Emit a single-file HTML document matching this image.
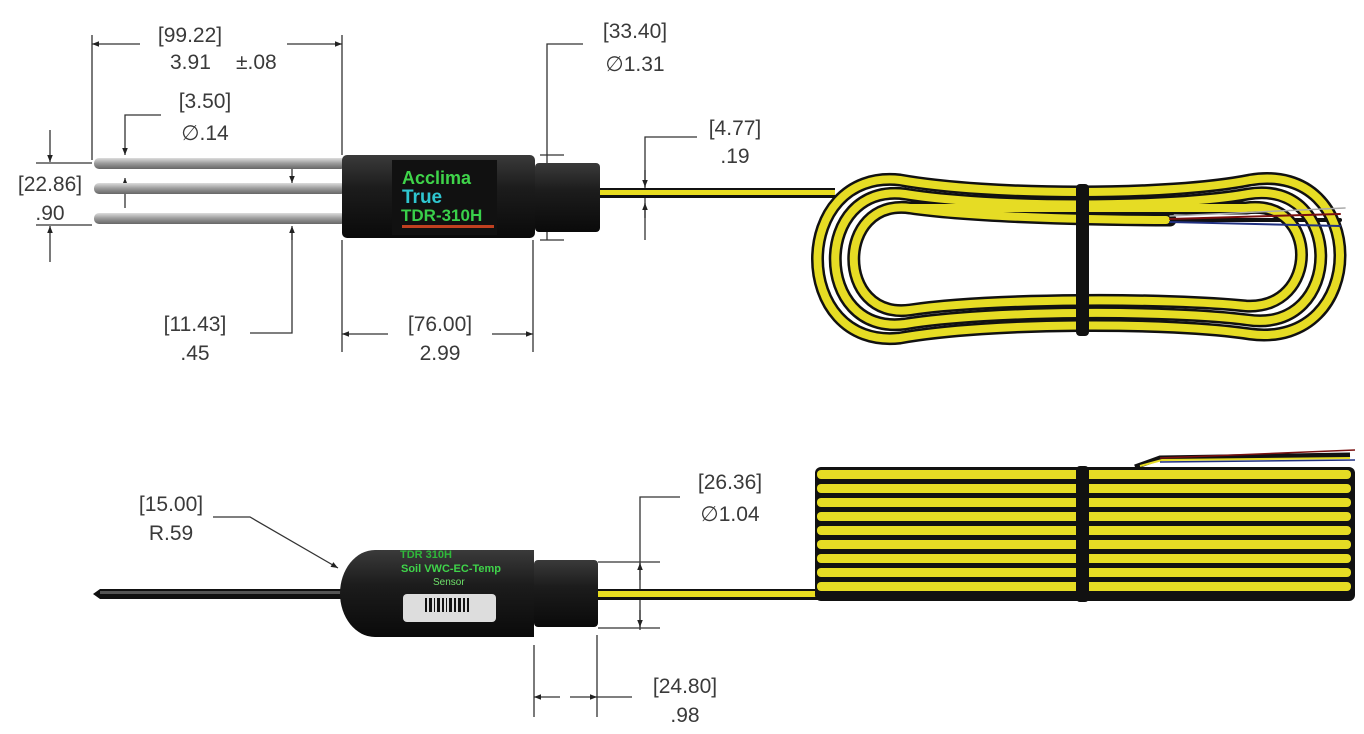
<!DOCTYPE html>
<html><head><meta charset="utf-8"><style>
html,body{margin:0;padding:0;background:#fff;}
svg{display:block}
text{font-family:"Liberation Sans",sans-serif;fill:#3a3a3a;font-size:21px}
</style></head><body>
<svg width="1364" height="734" viewBox="0 0 1364 734" xmlns="http://www.w3.org/2000/svg">
<defs>
<marker id="a" viewBox="0 0 10 10" refX="10" refY="5" markerWidth="9" markerHeight="7" orient="auto-start-reverse" markerUnits="userSpaceOnUse"><path d="M0,1 L10,5 L0,9 Z" fill="#222"/></marker>
<linearGradient id="rod" x1="0" y1="0" x2="0" y2="1"><stop offset="0" stop-color="#ddd"/><stop offset=".5" stop-color="#999"/><stop offset="1" stop-color="#666"/></linearGradient>
<linearGradient id="blk" x1="0" y1="0" x2="0" y2="1"><stop offset="0" stop-color="#3a3a3a"/><stop offset=".4" stop-color="#1c1c1c"/><stop offset="1" stop-color="#0a0a0a"/></linearGradient>
</defs>
<g stroke="#333" stroke-width="1.3" fill="none">
<!-- 99.22 -->
<line x1="92" y1="35" x2="92" y2="160"/><line x1="342" y1="35" x2="342" y2="155"/>
<line x1="140" y1="44" x2="92" y2="44" marker-end="url(#a)"/><line x1="287" y1="44" x2="342" y2="44" marker-end="url(#a)"/>
<!-- 3.50 -->
<polyline points="161,115 125,115 125,155" marker-end="url(#a)"/><line x1="125" y1="208" x2="125" y2="178" marker-end="url(#a)"/>
<line x1="292" y1="168" x2="292" y2="183" marker-end="url(#a)"/>
<!-- 22.86 -->
<line x1="50" y1="130" x2="50" y2="162" marker-end="url(#a)"/><line x1="50" y1="262" x2="50" y2="226" marker-end="url(#a)"/>
<line x1="36" y1="163" x2="92" y2="163"/><line x1="36" y1="225" x2="92" y2="225"/>
<!-- 11.43 -->
<polyline points="250,333 292,333 292,228"/><line x1="292" y1="240" x2="292" y2="226" marker-end="url(#a)"/>
<!-- 76.00 -->
<line x1="342" y1="240" x2="342" y2="352"/><line x1="533" y1="240" x2="533" y2="352"/>
<line x1="388" y1="334" x2="342" y2="334" marker-end="url(#a)"/><line x1="492" y1="334" x2="533" y2="334" marker-end="url(#a)"/>
<!-- 33.40 -->
<polyline points="583,44 547,44 547,240"/><line x1="540" y1="155" x2="564" y2="155"/><line x1="540" y1="240" x2="564" y2="240"/>
<!-- 4.77 -->
<polyline points="697,137 645,137 645,240"/><line x1="645" y1="170" x2="645" y2="187" marker-end="url(#a)"/><line x1="645" y1="218" x2="645" y2="203" marker-end="url(#a)"/>
<!-- 15.00 -->
<polyline points="213,517 250,517 338,568" marker-end="url(#a)"/>
<!-- 26.36 -->
<polyline points="680,497 640,497 640,630"/><line x1="598" y1="562" x2="660" y2="562"/><line x1="598" y1="628" x2="660" y2="628"/>
<line x1="640" y1="580" x2="640" y2="563" marker-end="url(#a)"/><line x1="640" y1="610" x2="640" y2="627" marker-end="url(#a)"/>
<!-- 24.80 -->
<line x1="534" y1="645" x2="534" y2="717"/><line x1="597" y1="635" x2="597" y2="717"/>
<line x1="560" y1="697" x2="534" y2="697" marker-end="url(#a)"/><line x1="570" y1="697" x2="597" y2="697" marker-end="url(#a)"/><line x1="597" y1="697" x2="632" y2="697"/>
</g>
<!-- texts -->
<text x="190" y="42" text-anchor="middle">[99.22]</text>
<text x="170" y="69">3.91</text><text x="236" y="69">±.08</text>
<text x="205" y="108" text-anchor="middle">[3.50]</text>
<text x="205" y="140" text-anchor="middle">∅.14</text>
<text x="50" y="191" text-anchor="middle">[22.86]</text>
<text x="50" y="220" text-anchor="middle">.90</text>
<text x="195" y="331" text-anchor="middle">[11.43]</text>
<text x="195" y="360" text-anchor="middle">.45</text>
<text x="440" y="331" text-anchor="middle">[76.00]</text>
<text x="440" y="360" text-anchor="middle">2.99</text>
<text x="635" y="38" text-anchor="middle">[33.40]</text>
<text x="635" y="71" text-anchor="middle">∅1.31</text>
<text x="735" y="135" text-anchor="middle">[4.77]</text>
<text x="735" y="163" text-anchor="middle">.19</text>
<text x="171" y="511" text-anchor="middle">[15.00]</text>
<text x="171" y="540" text-anchor="middle">R.59</text>
<text x="730" y="489" text-anchor="middle">[26.36]</text>
<text x="730" y="521" text-anchor="middle">∅1.04</text>
<text x="685" y="693" text-anchor="middle">[24.80]</text>
<text x="685" y="722" text-anchor="middle">.98</text>

<!-- top probe rods -->
<rect x="94" y="158" width="252" height="11" rx="5" fill="url(#rod)"/>
<rect x="94" y="183" width="252" height="11" rx="5" fill="url(#rod)"/>
<rect x="94" y="213" width="252" height="11" rx="5" fill="url(#rod)"/>
<!-- top body -->
<rect x="342" y="155" width="193" height="83" rx="5" fill="url(#blk)"/>
<rect x="535" y="163" width="65" height="69" rx="4" fill="url(#blk)"/>
<rect x="392" y="160" width="105" height="75" fill="#111"/>
<text x="402" y="184" style="fill:#3fd44a;font-weight:bold;font-size:18px">Acclima</text>
<text x="402" y="203" style="fill:#2fc6d0;font-weight:bold;font-size:19px">True</text>
<text x="401" y="221" style="fill:#39d04a;font-weight:bold;font-size:17px">TDR-310H</text>
<rect x="402" y="225" width="92" height="3" fill="#c04020"/>
<!-- top cable -->
<rect x="600" y="188" width="235" height="10" fill="#111"/>
<rect x="600" y="190" width="235" height="5" fill="#e8dc20"/>

<!-- top coil -->
<g fill="none" stroke-linecap="round">
<g stroke="#111" stroke-width="13">
<path d="M900,180 C990,196 1170,196 1250,180 C1370,160 1370,350 1250,334 C1170,322 990,322 900,338 C790,350 790,168 900,180 Z"/>
<path d="M905,194 C990,208 1170,208 1248,194 C1345,178 1345,334 1248,320 C1170,310 990,310 905,324 C812,336 812,182 905,194 Z"/>
<path d="M910,208 C990,220 1170,220 1170,220 M1246,208 C1320,198 1320,310 1246,306 C1170,298 990,298 910,310 C835,320 835,198 910,208 Z"/>
<path d="M1170,220 L1340,220" stroke-width="4"/>
</g>
<g stroke="#e6dc24" stroke-width="8">
<path d="M900,180 C990,196 1170,196 1250,180 C1370,160 1370,350 1250,334 C1170,322 990,322 900,338 C790,350 790,168 900,180 Z"/>
<path d="M905,194 C990,208 1170,208 1248,194 C1345,178 1345,334 1248,320 C1170,310 990,310 905,324 C812,336 812,182 905,194 Z"/>
<path d="M910,208 C990,220 1166,220 1166,220 M1246,208 C1320,198 1320,310 1246,306 C1170,298 990,298 910,310 C835,320 835,198 910,208 Z"/>
</g>
<path d="M1170,219 L1340,214" stroke="#7a1010" stroke-width="2"/>
<path d="M1170,222 L1340,226" stroke="#203080" stroke-width="2"/>
<path d="M1170,216 L1345,208" stroke="#aaa" stroke-width="1.5"/>
</g>
<rect x="1076" y="184" width="13" height="152" rx="4" fill="#111"/>

<!-- bottom view -->
<path d="M93,594 L100,589 L343,589 L343,599 L100,599 Z" fill="#111"/>
<rect x="100" y="591" width="243" height="3" fill="#555"/>
<path d="M375,550 L534,550 L534,637 L375,637 A35,43.5 0 0 1 375,550 Z" fill="url(#blk)"/>
<rect x="534" y="560" width="64" height="67" rx="4" fill="url(#blk)"/>
<text x="400" y="558" style="fill:#2fb83a;font-size:11px;font-weight:bold">TDR 310H</text>
<text x="401" y="572" style="fill:#3fd44a;font-size:11px;font-weight:bold">Soil VWC-EC-Temp</text>
<text x="433" y="585" style="fill:#6fe06a;font-size:10px">Sensor</text>
<rect x="403" y="594" width="93" height="28" rx="4" fill="#ddd"/>
<g fill="#111"><rect x="425" y="598" width="2" height="14"/><rect x="429" y="598" width="3" height="14"/><rect x="434" y="598" width="1" height="14"/><rect x="437" y="598" width="3" height="14"/><rect x="442" y="598" width="2" height="14"/><rect x="446" y="598" width="1" height="14"/><rect x="449" y="598" width="3" height="14"/><rect x="454" y="598" width="2" height="14"/><rect x="458" y="598" width="3" height="14"/><rect x="463" y="598" width="2" height="14"/><rect x="467" y="598" width="2" height="14"/></g>
<!-- bottom cable -->
<rect x="598" y="589" width="300" height="11" fill="#111"/>
<rect x="598" y="591" width="300" height="6" fill="#e8dc20"/>
<!-- bottom coil stack -->
<g>
<rect x="815" y="467" width="540" height="134" rx="6" fill="#111"/>
<g fill="#e6dc24">
<rect x="817" y="470" width="534" height="9" rx="4"/>
<rect x="817" y="484" width="534" height="9" rx="4"/>
<rect x="817" y="498" width="534" height="9" rx="4"/>
<rect x="817" y="512" width="534" height="9" rx="4"/>
<rect x="817" y="526" width="534" height="9" rx="4"/>
<rect x="817" y="540" width="534" height="9" rx="4"/>
<rect x="817" y="554" width="534" height="9" rx="4"/>
<rect x="817" y="568" width="534" height="9" rx="4"/>
<rect x="817" y="582" width="534" height="9" rx="4"/>
</g>
<path d="M1135,467 L1160,458 L1350,455" stroke="#111" stroke-width="5" fill="none"/>
<path d="M1140,466 L1162,460 L1350,458" stroke="#e6dc24" stroke-width="2" fill="none"/>
<path d="M1160,458 L1355,450" stroke="#7a1010" stroke-width="1.5"/>
<path d="M1160,462 L1355,460" stroke="#203080" stroke-width="1.5"/>
</g>
<rect x="1076" y="466" width="13" height="136" rx="4" fill="#111"/>
</svg>
</body></html>
